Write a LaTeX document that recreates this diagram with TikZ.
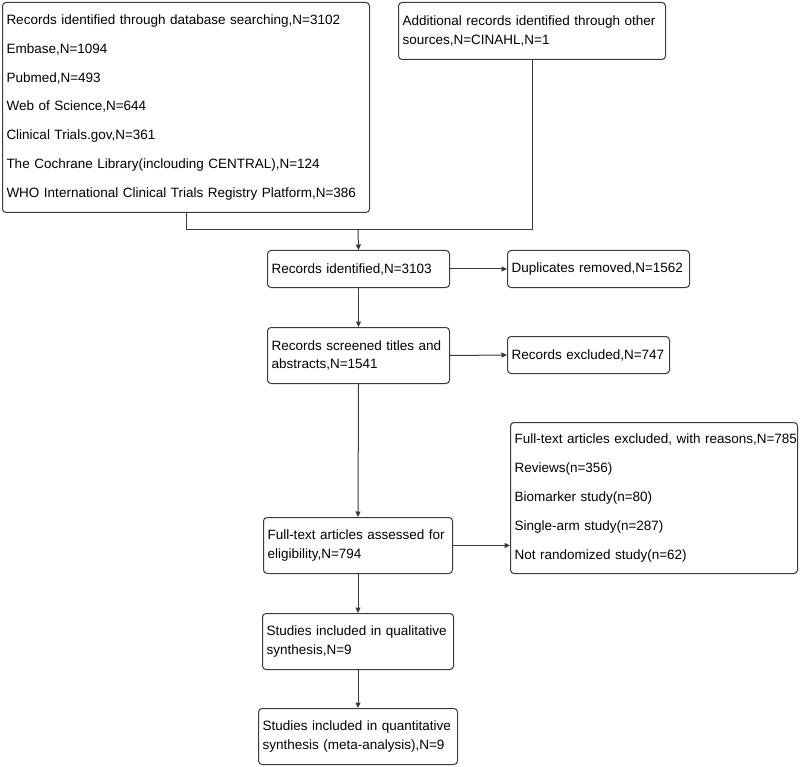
\documentclass[tikz,border=0pt]{standalone}
\usepackage{fontspec}
\setmainfont{Liberation Sans}
\usepackage{xcolor}
\definecolor{edge}{HTML}{3a3a3a}
\usepackage{tikz}
\usetikzlibrary{calc,positioning,arrows.meta}
\tikzset{
  box/.style={draw=edge, line width=1pt, rounded corners=3.5pt, align=left,
    inner xsep=4pt, inner ysep=0pt, anchor=north west,
    font=\fontsize{13.5}{18.8}\selectfont},
  listbox/.style={box, font=\fontsize{13.5}{28.8}\selectfont},
  link/.style={draw=edge, line width=1pt},
  arr/.style={link, -{Triangle[length=5.5pt,width=5pt]}}
}

\begin{document}
\begin{tikzpicture}[x=1pt, y=-1pt]
  \useasboundingbox (0,0) rectangle (800,767);

  % Identification
  \node[listbox, minimum width=367, minimum height=210, text width=359] (db) at (2,2)
    {\mbox{Records identified through database searching,N=3102}\\
     Embase,N=1094\\
     Pubmed,N=493\\
     Web of Science,N=644\\
     Clinical Trials.gov,N=361\\
     The Cochrane Library(inclouding CENTRAL),N=124\\
     \mbox{WHO International Clinical Trials Registry Platform,N=386}};
  \node[box, minimum width=267, minimum height=57, text width=259] (other) at (398,2)
    {\mbox{Additional records identified through other}\\ sources,N=CINAHL,N=1};

  % Screening
  \node[box, minimum width=182, minimum height=37, text width=174] (ident) at (267,250)
    {Records identified,N=3103};
  \node[box, minimum width=182, minimum height=37, text width=174] (dup) at (507,250)
    {Duplicates removed,N=1562};
  \node[box, minimum width=182, minimum height=56, text width=174] (screen) at (267,327)
    {\mbox{Records screened titles and}\\ abstracts,N=1541};
  \node[box, minimum width=162, minimum height=37, text width=154] (excl) at (507,336)
    {Records excluded,N=747};

  % Eligibility
  \node[listbox, minimum width=287, minimum height=151, text width=279] (fullexcl) at (510,422)
    {\mbox{Full-text articles excluded, with reasons,N=785}\\
     Reviews(n=356)\\
     Biomarker study(n=80)\\
     Single-arm study(n=287)\\
     Not randomized study(n=62)};
  \node[box, minimum width=189, minimum height=56, text width=181] (fulltext) at (263,517)
    {\mbox{Full-text articles assessed for}\\ eligibility,N=794};

  % Included
  \node[box, minimum width=191, minimum height=56, text width=183] (qual) at (262,613)
    {\mbox{Studies included in qualitative}\\ synthesis,N=9};
  \node[box, minimum width=199, minimum height=56, text width=191] (quant) at (258,708)
    {\mbox{Studies included in quantitative}\\ synthesis (meta-analysis),N=9};

  % Connectors
  \coordinate (merge) at (358,230);
  \draw[link] (db.south) |- (merge);
  \draw[link] (other.south) |- (merge);
  \draw[arr] (merge) -- (ident.north);
  \draw[arr] (ident.east) -- (dup.west);
  \draw[arr] (ident.south) -- (screen.north);
  \draw[arr] (screen.east) -- (excl.west);
  \draw[arr] (screen.south) -- (fulltext.north);
  \draw[arr] (fulltext.east) -- (fulltext.east -| fullexcl.west);
  \draw[arr] (fulltext.south) -- (qual.north);
  \draw[arr] (qual.south) -- (quant.north);
\end{tikzpicture}
\end{document}
